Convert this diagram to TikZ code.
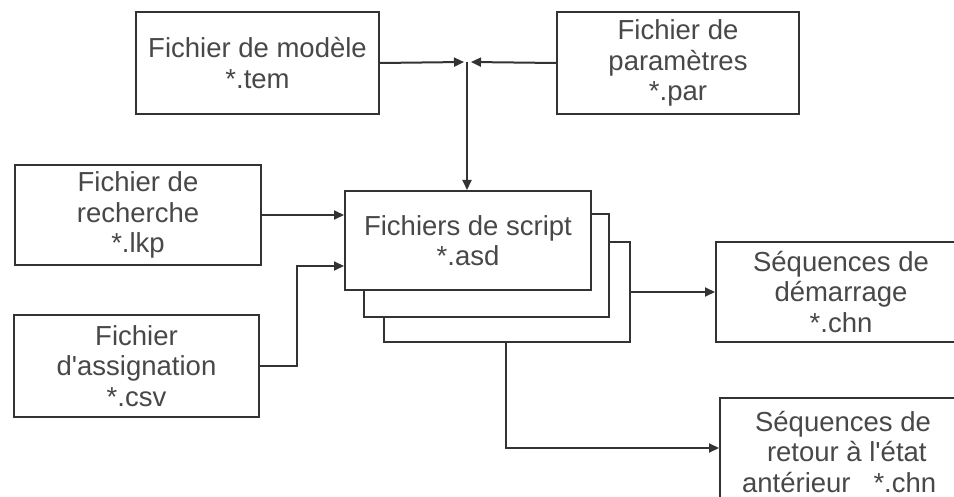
\documentclass[tikz,border=0pt]{standalone}
\usepackage{fontspec}
\setmainfont{Liberation Sans}
\usetikzlibrary{arrows.meta}
\definecolor{linec}{HTML}{333333}
\definecolor{textc}{HTML}{484848}
\tikzset{
  box/.style={draw=linec, line width=2pt, fill=white, anchor=north west, inner sep=0pt,
    align=center, text=textc, font=\fontsize{27.5}{30.5}\selectfont},
  arr/.style={draw=linec, line width=2pt, -{Triangle[length=10pt,width=9pt]}},
}
\newcommand{\apos}{\textquotesingle}
\begin{document}
\begin{tikzpicture}[x=1pt,y=-1pt]
\useasboundingbox[fill=white] (0,0) rectangle (954,497);
% top boxes
\node[box, minimum width=243pt, minimum height=102pt] (model) at (135,11) {Fichier de modèle\\*.tem};
\node[box, minimum width=242pt, minimum height=102pt] (par) at (556,11) {Fichier de\\paramètres\\*.par};
% left boxes
\node[box, minimum width=246pt, minimum height=100pt] (rech) at (14,164) {Fichier de\\recherche\\*.lkp};
\node[box, minimum width=245pt, minimum height=102pt] (assig) at (13,314) {Fichier\\d\apos assignation\\*.csv};
% stacked script boxes
\node[box, minimum width=246pt, minimum height=100pt] (s3) at (383,241) {};
\node[box, minimum width=245pt, minimum height=103pt] (s2) at (363,213) {};
\node[box, minimum width=246pt, minimum height=99pt] (s1) at (344,190) {Fichiers de script\\*.asd};
% right boxes
\node[box, minimum width=250pt, minimum height=100pt] (dem) at (715,241) {Séquences de\\démarrage\\*.chn};
\node[box, minimum width=246pt, minimum height=108pt] (ret) at (719,397) {Séquences de\\\ retour à l\apos état\\antérieur\ \ \ *.chn\ \ };
% coordinates
\coordinate (j) at (467,62);
\coordinate (a1) at (297,266);
\coordinate (r1) at (506,448);
% connectors
\draw[arr] (model.east) -- ([xshift=-3pt]j);
\draw[arr] (par.west) -- ([xshift=4pt]j);
\draw[arr] (j) -- (j |- s1.north);
\draw[arr] (rech.east) -- (rech.east -| s1.west);
\draw[arr] (assig.east) -| (a1) -- (a1 -| s1.west);
\draw[arr] (s3.east) -- (dem.west);
\draw[arr] (s3.south -| r1) -- (r1) -- (r1 -| ret.west);
\end{tikzpicture}
\end{document}
